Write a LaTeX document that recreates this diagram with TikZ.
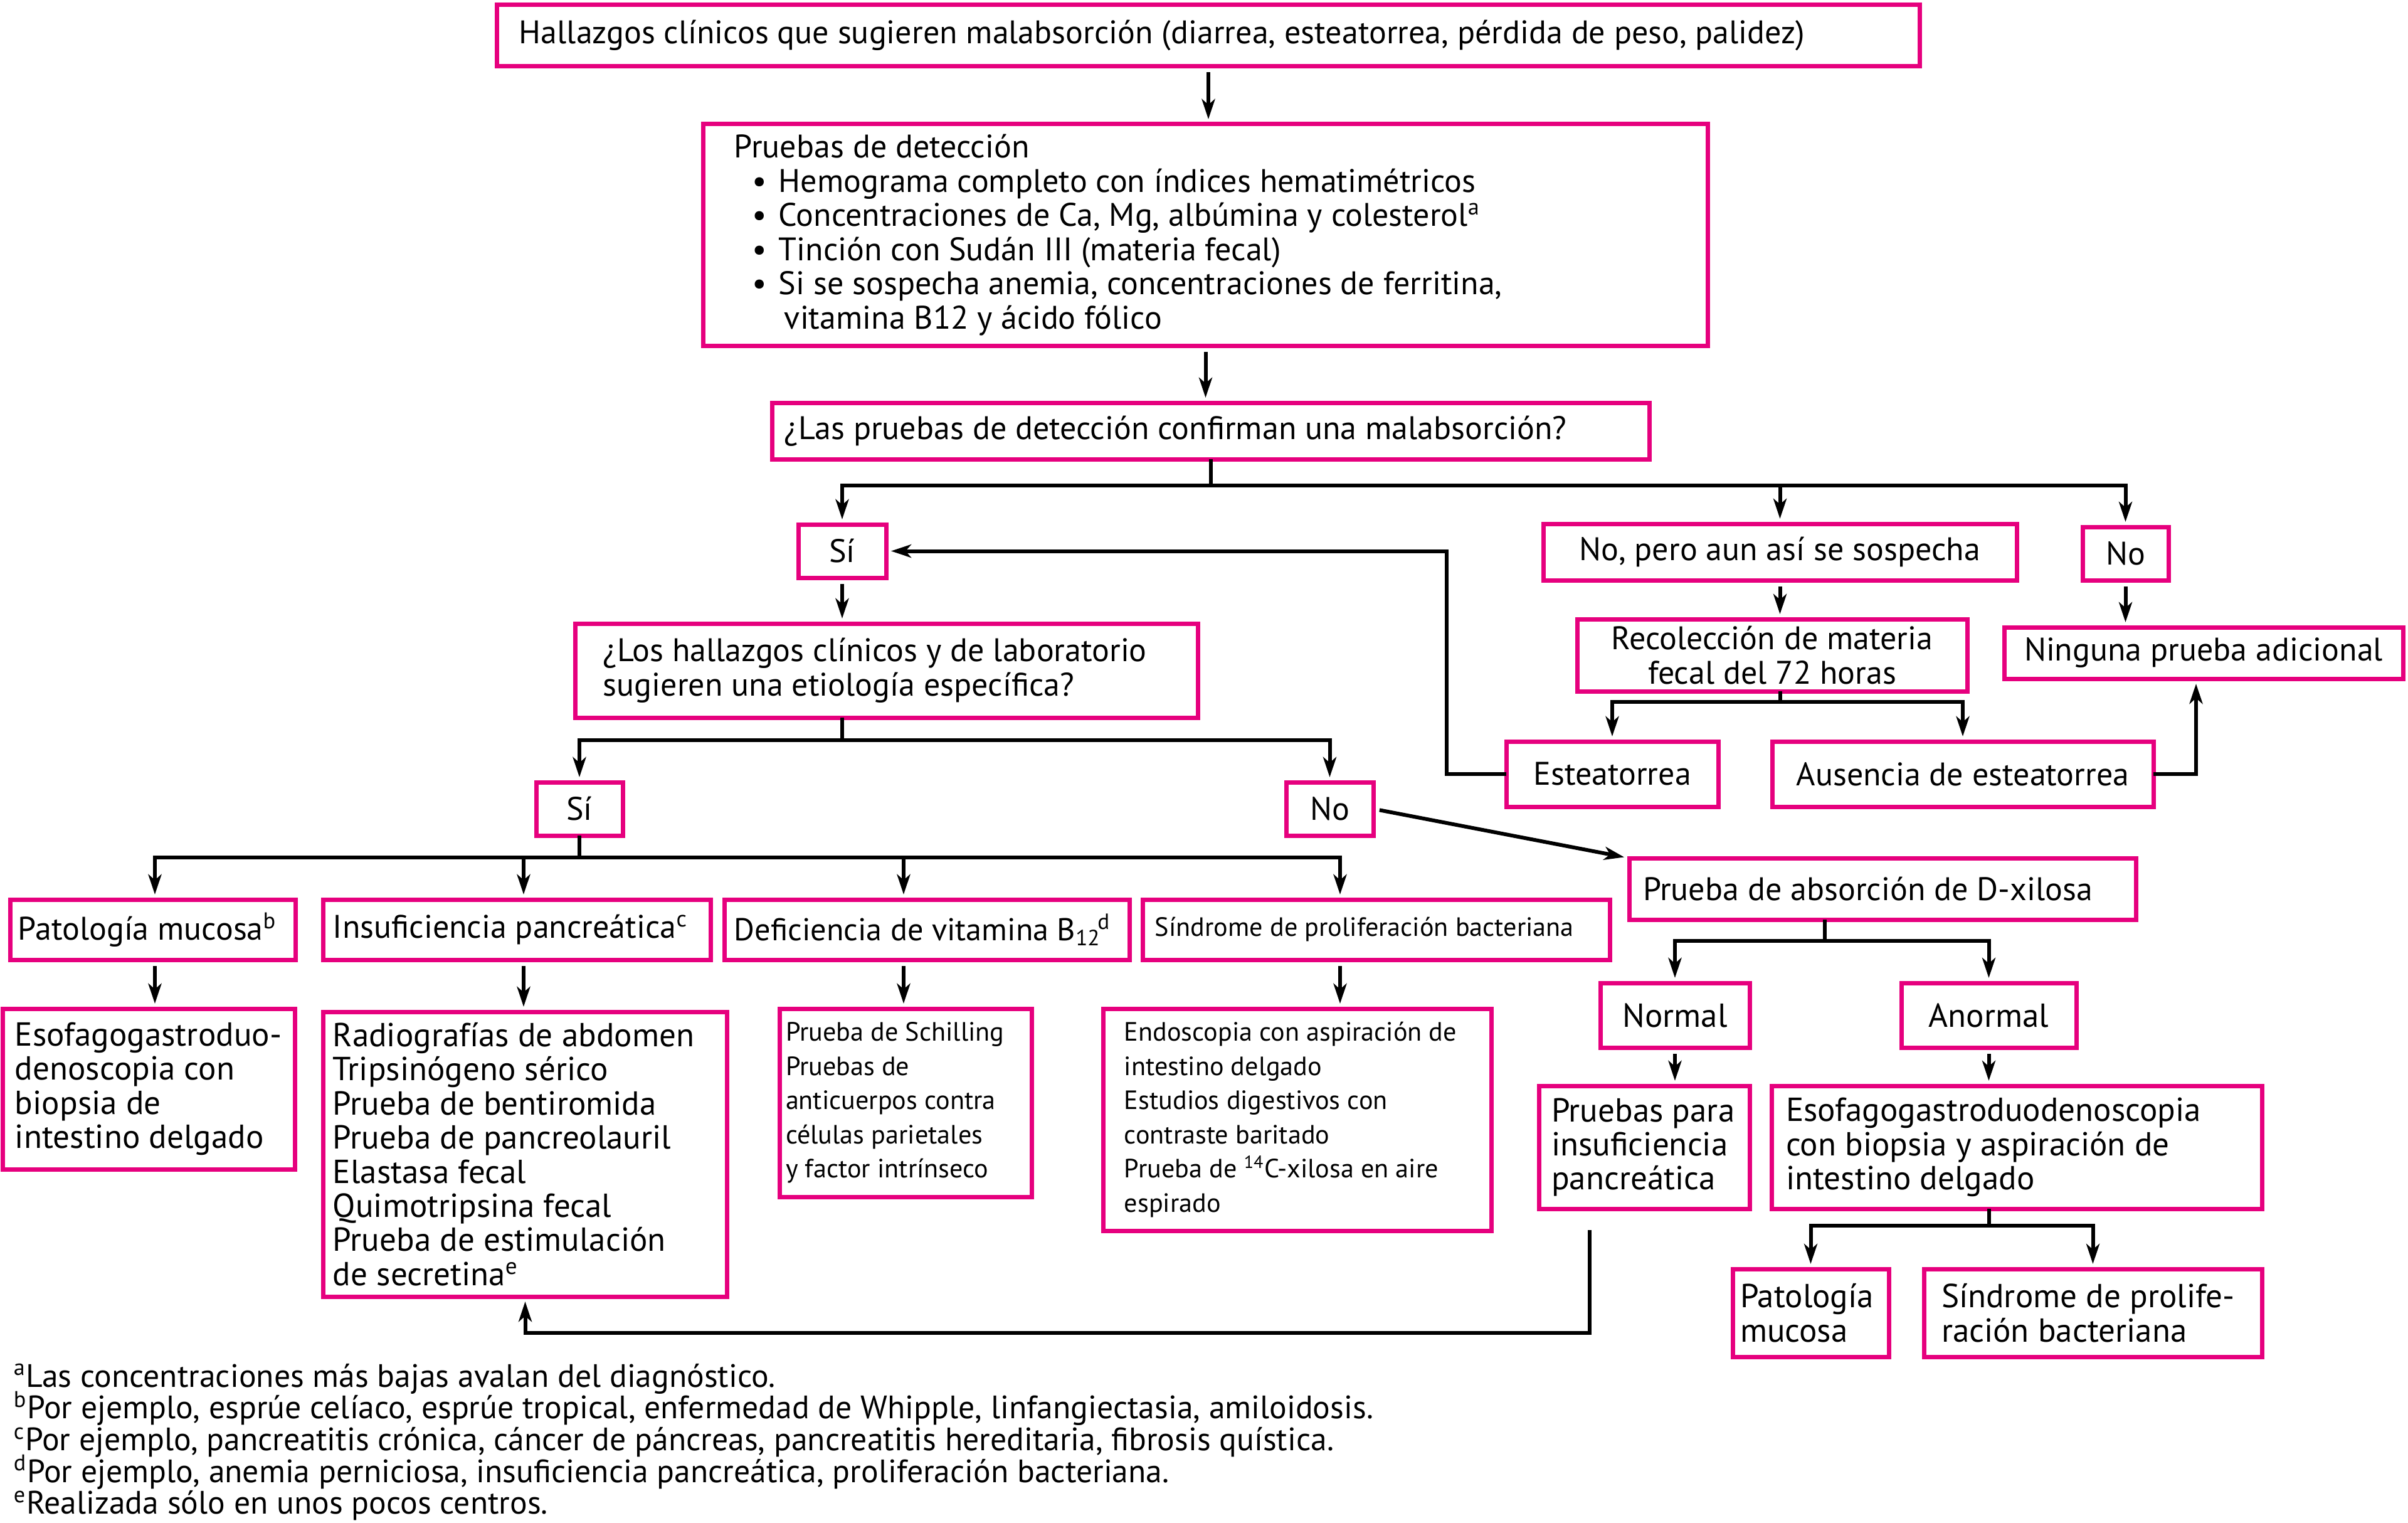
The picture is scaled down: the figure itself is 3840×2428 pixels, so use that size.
\documentclass[tikz,border=0pt]{standalone}
\usepackage{fontspec}
\setmainfont{PT Sans}
\usetikzlibrary{arrows.meta,calc}
\definecolor{pk}{HTML}{E6007E}
\newcommand\fmain{\fontsize{14.8}{15.5}\selectfont\lineskiplimit=-20pt\relax}
\newcommand\fsmall{\fontsize{12}{15.5}\selectfont\lineskiplimit=-20pt\relax}
\newcommand\fbig{\fontsize{15.1}{15.5}\selectfont\lineskiplimit=-20pt\relax}
\newcommand\ffoot{\fontsize{14.7}{14.4}\selectfont\lineskiplimit=-20pt\relax}
\newcommand\itm{\hspace*{2.9mm}\makebox[4.2mm][l]{\textbullet}}
\tikzset{
  box/.style={draw=pk, line width=0.7mm, inner sep=0pt, outer sep=0pt, fill=white},
  txt/.style={inner sep=0pt, outer sep=0pt, align=left, font=\fmain},
  ln/.style={line width=0.6mm, draw=black},
  arr/.style={ln, -{Stealth[length=3.2mm,width=2.1mm,inset=0.9mm]}, shorten >=0.8mm},
  gap/.style={shorten <=1mm},
}
\newcommand\bx[5]{%
  \pgfmathsetmacro\bxw{(#4-#2)*0.1}%
  \pgfmathsetmacro\bxh{(#5-#3)*0.1}%
  \node[box,minimum width=\bxw mm,minimum height=\bxh mm] (#1) at ({(#2+#4)/2},{(#3+#5)/2}) {};}
\newcommand\tleft[4][]{\node[txt,anchor=west,#1] (#2-t) at ([xshift=#3mm]#2.west) {#4};}
\newcommand\tcent[3][]{\node[txt,align=center,#1] (#2-t) at (#2.center) {#3};}
\begin{document}
\begin{tikzpicture}[x=0.1mm,y=-0.1mm]
\useasboundingbox (0,0) rectangle (3840,2428);
% boxes
\bx{top}{793}{7}{3061}{105}
\bx{pr}{1122}{198}{2723}{551}
\bx{lp}{1232}{642}{2630}{732}
\bx{si1}{1273}{836}{1413}{921}
\bx{np}{2461}{835}{3216}{925}
\bx{no1}{3321}{840}{3458}{925}
\bx{lh}{918}{994}{1910}{1144}
\bx{rc}{2515}{987}{3137}{1102}
\bx{ng}{3196}{1000}{3832}{1082}
\bx{es}{2402}{1182}{2740}{1286}
\bx{au}{2826}{1182}{3434}{1286}
\bx{si2}{855}{1247}{993}{1332}
\bx{no2}{2051}{1247}{2190}{1332}
\bx{pa}{17}{1434}{471}{1530}
\bx{ins}{516}{1434}{1133}{1530}
\bx{def}{1156}{1434}{1801}{1530}
\bx{sb}{1823}{1434}{2567}{1530}
\bx{dx}{2598}{1368}{3406}{1466}
\bx{eo}{5}{1608}{470}{1864}
\bx{ra}{516}{1613}{1159}{2067}
\bx{sc}{1243}{1608}{1645}{1908}
\bx{en}{1759}{1608}{2378}{1962}
\bx{nm}{2552}{1567}{2790}{1670}
\bx{an}{3032}{1567}{3311}{1670}
\bx{pp}{2454}{1731}{2790}{1927}
\bx{ee}{2825}{1731}{3607}{1927}
\bx{pb}{2763}{2023}{3012}{2163}
\bx{sd}{3068}{2023}{3607}{2163}
% texts
\tleft{top}{3.5}{Hallazgos clínicos que sugieren malabsorción (diarrea, esteatorrea, pérdida de peso, palidez)}
\tleft{pr}{4.9}{Pruebas de detección\\
\itm Hemograma completo con índices hematimétricos\\
\itm Concentraciones de Ca, Mg, albúmina y colesterol\textsuperscript{a}\\
\itm Tinción con Sudán III (materia fecal)\\
\itm Si se sospecha anemia, concentraciones de ferritina,\\
\hspace*{8mm}vitamina B12 y ácido fólico}
\tleft{lp}{1.9}{¿Las pruebas de detección confirman una malabsorción?}
\tcent{si1}{Sí}
\tcent{np}{No, pero aun así se sospecha}
\tcent{no1}{No}
\tleft{lh}{4.4}{¿Los hallazgos clínicos y de laboratorio\\sugieren una etiología específica?}
\tcent{rc}{Recolección de materia\\fecal del 72 horas}
\tcent{ng}{Ninguna prueba adicional}
\tcent{es}{Esteatorrea}
\tcent{au}{Ausencia de esteatorrea}
\tcent{si2}{Sí}
\tcent{no2}{No}
\tleft{pa}{1.2}{Patología mucosa\textsuperscript{b}}
\tleft{ins}{1.5}{Insuficiencia pancreática\textsuperscript{c}}
\tleft[font=\fontsize{14.3}{15.5}\selectfont]{def}{1.5}{Deficiencia de vitamina B\textsubscript{12}\hspace{-0.1em}\textsuperscript{d}}
\tleft[font=\fsmall]{sb}{1.9}{Síndrome de proliferación bacteriana}
\tleft{dx}{2.2}{Prueba de absorción de D-xilosa}
\tleft[font=\fbig]{eo}{1.9}{Esofagogastroduo-\\denoscopia con\\biopsia de\\intestino delgado}
\tleft[font=\fbig]{ra}{1.5}{Radiografías de abdomen\\Tripsinógeno sérico\\Prueba de bentiromida\\Prueba de pancreolauril\\Elastasa fecal\\Quimotripsina fecal\\Prueba de estimulación\\de secretina\textsuperscript{e}}
\tleft[font=\fsmall]{sc}{1.0}{Prueba de Schilling\\Pruebas de\\anticuerpos contra\\células parietales\\y factor intrínseco}
\tleft[font=\fsmall]{en}{3.4}{Endoscopia con aspiración de\\intestino delgado\\Estudios digestivos con\\contraste baritado\\Prueba de \textsuperscript{14}C-xilosa en aire\\espirado}
\tcent[font=\fbig]{nm}{Normal}
\tcent[font=\fbig]{an}{Anormal}
\tleft[font=\fbig]{pp}{2.0}{Pruebas para\\insuficiencia\\pancreática}
\tleft[font=\fbig]{ee}{2.3}{Esofagogastroduodenoscopia\\con biopsia y aspiración de\\intestino delgado}
\tleft[font=\fbig]{pb}{1.2}{Patología\\mucosa}
\tleft[font=\fbig]{sd}{2.8}{Síndrome de prolife-\\ración bacteriana}
% footnotes
\node[txt,font=\ffoot,anchor=north west] (fn) at (22,2174) {\textsuperscript{a}Las concentraciones más bajas avalan del diagnóstico.\\
\textsuperscript{b}Por ejemplo, esprúe celíaco, esprúe tropical, enfermedad de Whipple, linfangiectasia, amiloidosis.\\
\textsuperscript{c}Por ejemplo, pancreatitis crónica, cáncer de páncreas, pancreatitis hereditaria, fibrosis quística.\\
\textsuperscript{d}Por ejemplo, anemia perniciosa, insuficiencia pancreática, proliferación bacteriana.\\
\textsuperscript{e}Realizada sólo en unos pocos centros.};
% connectors
\draw[arr,gap] (top.south) -- (top.south |- pr.north);
\draw[arr,gap] (pr.south) -- (pr.south |- lp.north);
\draw[ln] (lp.south) -- ++(0,42) coordinate (j1);
\draw[arr] (j1) -| (si1);
\draw[arr] (j1) -| (np);
\draw[arr] (j1) -| (no1);
\draw[arr,gap] (si1.south) -- (si1.south |- lh.north);
\draw[ln] (si1.south |- lh.south) -- ++(0,36) coordinate (j2);
\draw[arr] (j2) -| (si2);
\draw[arr] (j2) -| (no2);
\draw[arr,gap] (np.south) -- (np.south |- rc.north);
\draw[ln] (np.south |- rc.south) -- ++(0,17) coordinate (j3);
\draw[arr] (j3) -| (es);
\draw[arr] (j3) -| (au);
\draw[arr,gap] (no1.south) -- (no1.south |- ng.north);
\draw[arr] (es.west) -- ++(-95,0) |- (si1.east);
\draw[arr] (au.east) -| ([xshift=-1.2mm]ng.south);
\draw[arr,gap] (no2.east) -- (dx.north west);
\draw[ln] (si2.south) -- ++(0,35) coordinate (j4);
\coordinate (k1) at (247,0);
\coordinate (k2) at (835,0);
\coordinate (k3) at (1441,0);
\coordinate (k4) at (2137,0);
\draw[arr] (j4) -| (k1 |- pa.north);
\draw[arr] (j4) -| (k2 |- ins.north);
\draw[arr] (j4) -| (k3 |- def.north);
\draw[arr] (j4) -| (k4 |- sb.north);
\draw[arr,gap] (k1 |- pa.south) -- (k1 |- eo.north);
\draw[arr,gap] (k2 |- ins.south) -- (k2 |- ra.north);
\draw[arr,gap] (k3 |- def.south) -- (k3 |- sc.north);
\draw[arr,gap] (k4 |- sb.south) -- (k4 |- en.north);
\coordinate (j5) at (2910,1500);
\draw[ln] (j5 |- dx.south) -- (j5);
\draw[arr] (j5) -| (nm);
\draw[arr] (j5) -| (an);
\draw[arr,gap] (nm.south) -- (nm.south |- pp.north);
\draw[arr,gap] (an.south) -- (an.south |- ee.north);
\draw[ln] (an.south |- ee.south) -- ++(0,27) coordinate (j6);
\draw[arr] (j6) -| (pb);
\draw[arr] (j6) -| (sd);
\coordinate (r1) at (2535,2125);
\path (pp.south -| r1) ++(0,34) coordinate (r0);
\draw[arr] (r0) -- (r1) -| (ra.south);
\end{tikzpicture}
\end{document}
